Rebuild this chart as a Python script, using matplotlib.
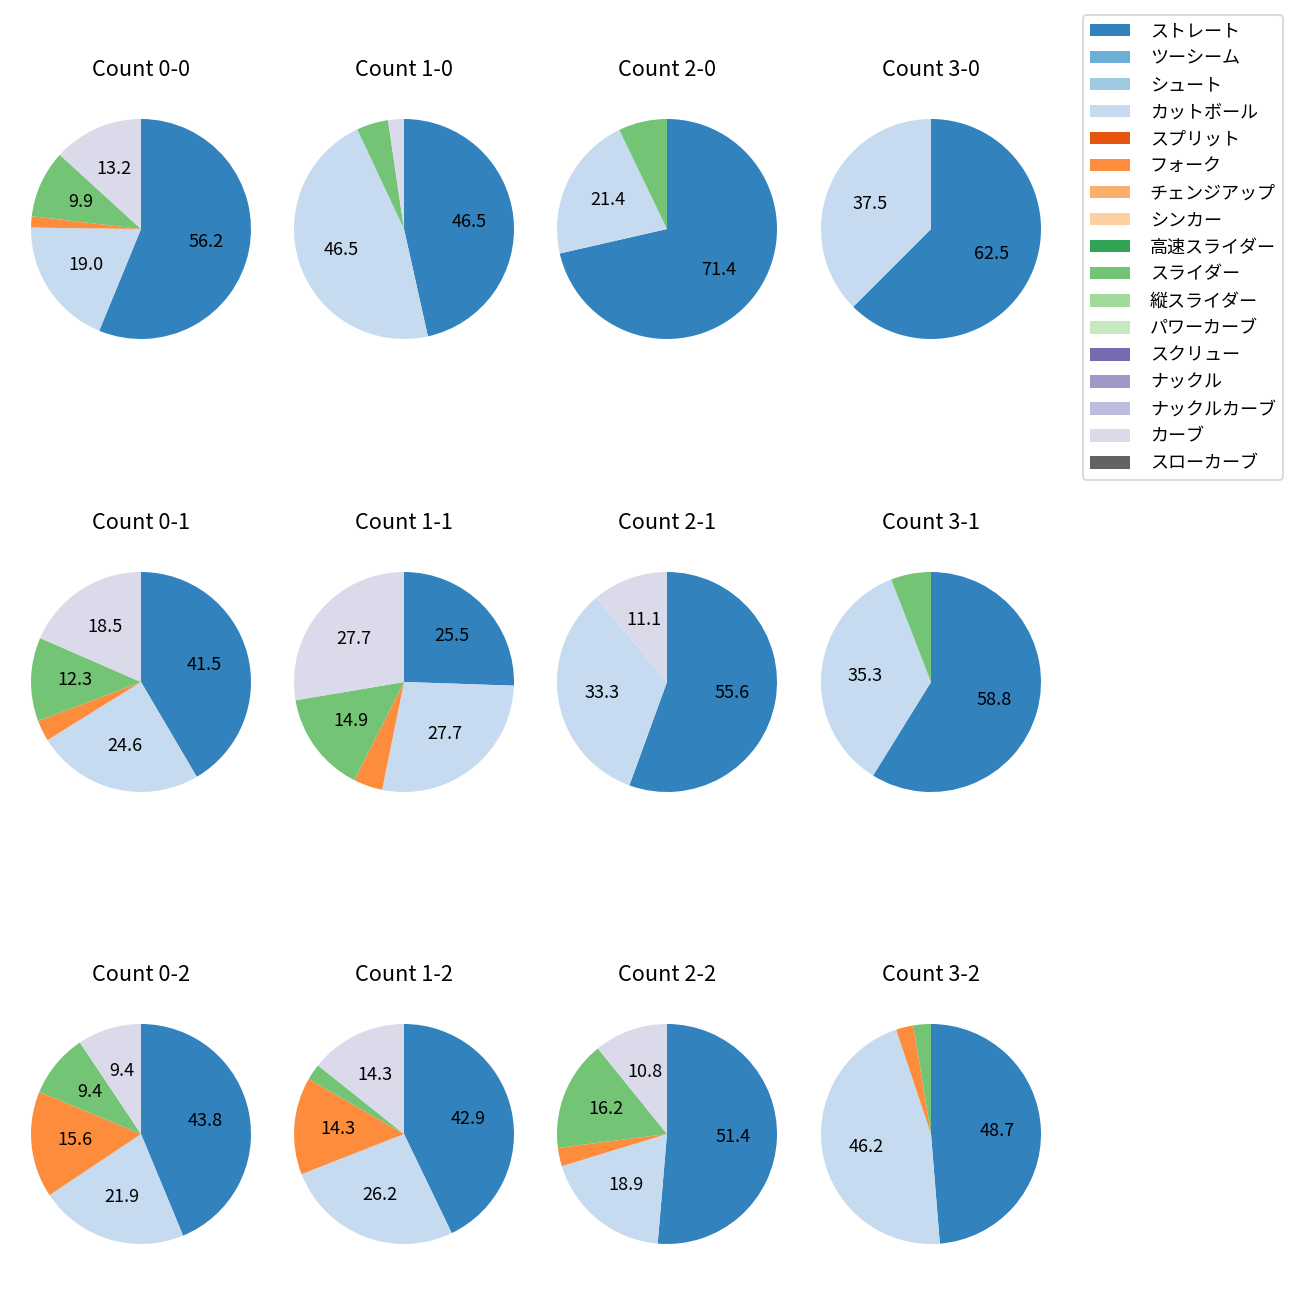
import matplotlib
matplotlib.use('Agg')
import matplotlib.pyplot as plt

plt.rcParams['font.family'] = ['Noto Sans CJK JP', 'DejaVu Sans']

pitch_types = [
    'ストレート', 'ツーシーム', 'シュート', 'カットボール', 'スプリット', 'フォーク',
    'チェンジアップ', 'シンカー', '高速スライダー', 'スライダー', '縦スライダー',
    'パワーカーブ', 'スクリュー', 'ナックル', 'ナックルカーブ', 'カーブ', 'スローカーブ'
]

count_labels = ['0-0', '1-0', '2-0', '3-0',
                '0-1', '1-1', '2-1', '3-1',
                '0-2', '1-2', '2-2', '3-2']

# pitches thrown per count, in the order of pitch_types
pitch_counts = [
    [68, 0, 0, 23, 0, 2, 0, 0, 0, 12, 0, 0, 0, 0, 0, 16, 0],
    [20, 0, 0, 20, 0, 0, 0, 0, 0, 2, 0, 0, 0, 0, 0, 1, 0],
    [10, 0, 0, 3, 0, 0, 0, 0, 0, 1, 0, 0, 0, 0, 0, 0, 0],
    [5, 0, 0, 3, 0, 0, 0, 0, 0, 0, 0, 0, 0, 0, 0, 0, 0],
    [27, 0, 0, 16, 0, 2, 0, 0, 0, 8, 0, 0, 0, 0, 0, 12, 0],
    [12, 0, 0, 13, 0, 2, 0, 0, 0, 7, 0, 0, 0, 0, 0, 13, 0],
    [5, 0, 0, 3, 0, 0, 0, 0, 0, 0, 0, 0, 0, 0, 0, 1, 0],
    [10, 0, 0, 6, 0, 0, 0, 0, 0, 1, 0, 0, 0, 0, 0, 0, 0],
    [14, 0, 0, 7, 0, 5, 0, 0, 0, 3, 0, 0, 0, 0, 0, 3, 0],
    [18, 0, 0, 11, 0, 6, 0, 0, 0, 1, 0, 0, 0, 0, 0, 6, 0],
    [19, 0, 0, 7, 0, 1, 0, 0, 0, 6, 0, 0, 0, 0, 0, 4, 0],
    [19, 0, 0, 18, 0, 1, 0, 0, 0, 1, 0, 0, 0, 0, 0, 0, 0],
]

colors = [plt.cm.tab20c(i) for i in range(len(pitch_types))]

fig = plt.figure(figsize=(10, 10), dpi=130)

# pie centres in pixels of the 1300 px canvas
centers_x = [141, 404, 667, 931]
centers_y = [229, 682, 1134]
size = 275

handles = None
for i, (label, vals) in enumerate(zip(count_labels, pitch_counts)):
    cx = centers_x[i % 4]
    cy = centers_y[i // 4]
    ax = fig.add_axes([(cx - size / 2) / 1300, 1 - (cy + size / 2) / 1300,
                       size / 1300, size / 1300])
    wedges, _, _ = ax.pie(vals, colors=colors, startangle=90, counterclock=False,
                          autopct=lambda p: f'{p:.1f}' if p >= 8 else '')
    ax.set_title(f'Count {label}', pad=8.5)
    if handles is None:
        handles = wedges

fig.legend(handles, pitch_types, loc='upper right', handlelength=2.2,
           handletextpad=1.1, bbox_to_anchor=(1283 / 1300, 1 - 15 / 1300),
           borderaxespad=0)

fig.savefig('out.png')
